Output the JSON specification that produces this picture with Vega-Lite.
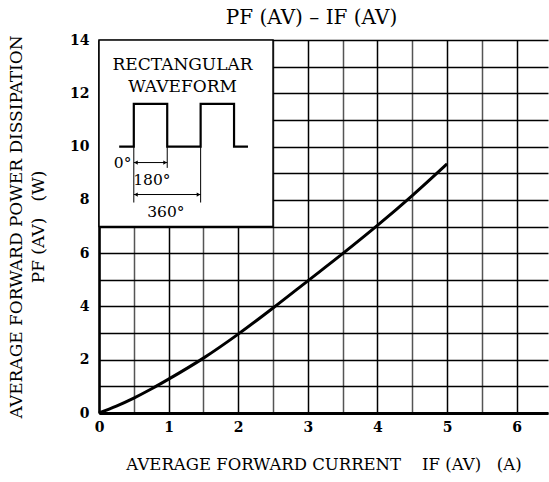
{
  "$schema": "https://vega.github.io/schema/vega-lite/v6.json",
  "width": 449,
  "height": 373,
  "autosize": {"type": "none"},
  "padding": {"left": 99, "top": 40, "right": 1, "bottom": 69},
  "background": "white",
  "config": {
    "font": "DejaVu Serif",
    "view": {"stroke": null},
    "title": {"font": "DejaVu Serif", "fontSize": 20, "fontWeight": "normal", "color": "black", "offset": 5}
  },
  "title": {"text": "PF (AV)  –  IF (AV)", "anchor": "middle", "dx": -12},
  "datasets": {
    "curve": [
      {"current": 0, "power": 0},
      {"current": 0.25, "power": 0.26},
      {"current": 0.5, "power": 0.56},
      {"current": 0.75, "power": 0.9},
      {"current": 1, "power": 1.27},
      {"current": 1.5, "power": 2.06},
      {"current": 2, "power": 2.96},
      {"current": 2.5, "power": 3.94},
      {"current": 3, "power": 4.96},
      {"current": 3.5, "power": 5.98},
      {"current": 4, "power": 7.04},
      {"current": 4.5, "power": 8.16},
      {"current": 5, "power": 9.35}
    ],
    "inset": [{"x": 0, "x2": 2.5, "y": 7, "y2": 14}],
    "wave": [
      {"i": 0, "x": 0.29, "y": 10},
      {"i": 1, "x": 0.5, "y": 10},
      {"i": 2, "x": 0.5, "y": 11.6},
      {"i": 3, "x": 0.98, "y": 11.6},
      {"i": 4, "x": 0.98, "y": 10},
      {"i": 5, "x": 1.46, "y": 10},
      {"i": 6, "x": 1.46, "y": 11.6},
      {"i": 7, "x": 1.94, "y": 11.6},
      {"i": 8, "x": 1.94, "y": 10},
      {"i": 9, "x": 2.14, "y": 10}
    ],
    "ext": [
      {"x": 0.5, "y": 10, "y2": 7.9},
      {"x": 0.98, "y": 10, "y2": 9.2},
      {"x": 1.46, "y": 10, "y2": 7.9}
    ],
    "dims": [
      {"x": 0.5, "x2": 0.98, "y": 9.4},
      {"x": 0.5, "x2": 1.46, "y": 8.2}
    ],
    "heads": [
      {"x": 0.53, "y": 9.4, "dir": "triangle-left"},
      {"x": 0.95, "y": 9.4, "dir": "triangle-right"},
      {"x": 0.53, "y": 8.2, "dir": "triangle-left"},
      {"x": 1.43, "y": 8.2, "dir": "triangle-right"}
    ],
    "heading": [
      {"x": 1.2, "y": 13.05, "text": "RECTANGULAR"},
      {"x": 1.2, "y": 12.25, "text": "WAVEFORM"}
    ],
    "degrees": [
      {"x": 0.34, "y": 9.38, "text": "0°"},
      {"x": 0.76, "y": 8.76, "text": "180°"},
      {"x": 0.96, "y": 7.56, "text": "360°"}
    ]
  },
  "encoding": {
    "x": {
      "type": "quantitative",
      "scale": {"domain": [0, 6.45], "nice": false},
      "axis": {
        "values": [0, 0.5, 1, 1.5, 2, 2.5, 3, 3.5, 4, 4.5, 5, 5.5, 6],
        "tickCount": 13,
        "format": "~g",
        "labelExpr": "datum.value % 1 === 0 ? datum.label : ''",
        "grid": true,
        "gridColor": {"condition": {"test": "datum.value % 1 !== 0", "value": "#555555"}, "value": "black"},
        "gridWidth": 1.5,
        "gridOpacity": 1,
        "ticks": false,
        "domainColor": "black",
        "domainWidth": 3,
        "labelFont": "DejaVu Serif",
        "labelFontSize": 14,
        "labelFontWeight": "bold",
        "labelColor": "black",
        "labelPadding": 7,
        "labelFlush": false,
        "labelOverlap": false,
        "title": "AVERAGE FORWARD CURRENT\u00a0\u00a0\u00a0\u00a0IF (AV)\u00a0\u00a0\u00a0(A)",
        "titleFont": "DejaVu Serif",
        "titleFontSize": 16.5,
        "titleFontWeight": "normal",
        "titleColor": "black",
        "titlePadding": 22
      }
    },
    "y": {
      "type": "quantitative",
      "scale": {"domain": [0, 14], "nice": false},
      "axis": {
        "values": [0, 1, 2, 3, 4, 5, 6, 7, 8, 9, 10, 11, 12, 13, 14],
        "format": "~g",
        "grid": true,
        "gridColor": "black",
        "gridWidth": 1.5,
        "gridOpacity": 1,
        "ticks": false,
        "domainColor": "black",
        "domainWidth": 2.5,
        "labelFont": "DejaVu Serif",
        "labelFontSize": 14,
        "labelFontWeight": "bold",
        "labelColor": {"condition": {"test": "datum.value % 2 !== 0", "value": "transparent"}, "value": "black"},
        "labelPadding": 10,
        "labelFlush": false,
        "labelOverlap": false,
        "title": ["AVERAGE FORWARD POWER DISSIPATION", "PF (AV)\u00a0\u00a0\u00a0(W)"],
        "titleFont": "DejaVu Serif",
        "titleFontSize": 17,
        "titleFontWeight": "normal",
        "titleColor": "black",
        "titlePadding": 22,
        "titleLineHeight": 22
      }
    }
  },
  "layer": [
    {
      "data": {"name": "curve"},
      "mark": {"type": "line", "color": "black", "strokeWidth": 3, "interpolate": "monotone"},
      "encoding": {
        "x": {"field": "current", "type": "quantitative"},
        "y": {"field": "power", "type": "quantitative"}
      }
    },
    {
      "data": {"name": "inset"},
      "mark": {"type": "rect", "fill": "white", "stroke": "black", "strokeWidth": 1.5},
      "encoding": {
        "x": {"field": "x", "type": "quantitative"},
        "x2": {"field": "x2"},
        "y": {"field": "y", "type": "quantitative"},
        "y2": {"field": "y2"}
      }
    },
    {
      "data": {"name": "wave"},
      "mark": {"type": "line", "color": "black", "strokeWidth": 2.2},
      "encoding": {
        "x": {"field": "x", "type": "quantitative"},
        "y": {"field": "y", "type": "quantitative"},
        "order": {"field": "i", "type": "quantitative"}
      }
    },
    {
      "data": {"name": "ext"},
      "mark": {"type": "rule", "color": "black", "strokeWidth": 1},
      "encoding": {
        "x": {"field": "x", "type": "quantitative"},
        "y": {"field": "y", "type": "quantitative"},
        "y2": {"field": "y2"}
      }
    },
    {
      "data": {"name": "dims"},
      "mark": {"type": "rule", "color": "black", "strokeWidth": 1},
      "encoding": {
        "x": {"field": "x", "type": "quantitative"},
        "x2": {"field": "x2"},
        "y": {"field": "y", "type": "quantitative"}
      }
    },
    {
      "data": {"name": "heads"},
      "mark": {"type": "point", "filled": true, "color": "black", "size": 18, "opacity": 1},
      "encoding": {
        "x": {"field": "x", "type": "quantitative"},
        "y": {"field": "y", "type": "quantitative"},
        "shape": {"field": "dir", "type": "nominal", "scale": null, "legend": null}
      }
    },
    {
      "data": {"name": "heading"},
      "mark": {"type": "text", "font": "DejaVu Serif", "fontSize": 17, "color": "black", "align": "center", "baseline": "middle"},
      "encoding": {
        "x": {"field": "x", "type": "quantitative"},
        "y": {"field": "y", "type": "quantitative"},
        "text": {"field": "text"}
      }
    },
    {
      "data": {"name": "degrees"},
      "mark": {"type": "text", "font": "DejaVu Serif", "fontSize": 15.5, "color": "black", "align": "center", "baseline": "middle"},
      "encoding": {
        "x": {"field": "x", "type": "quantitative"},
        "y": {"field": "y", "type": "quantitative"},
        "text": {"field": "text"}
      }
    }
  ]
}
